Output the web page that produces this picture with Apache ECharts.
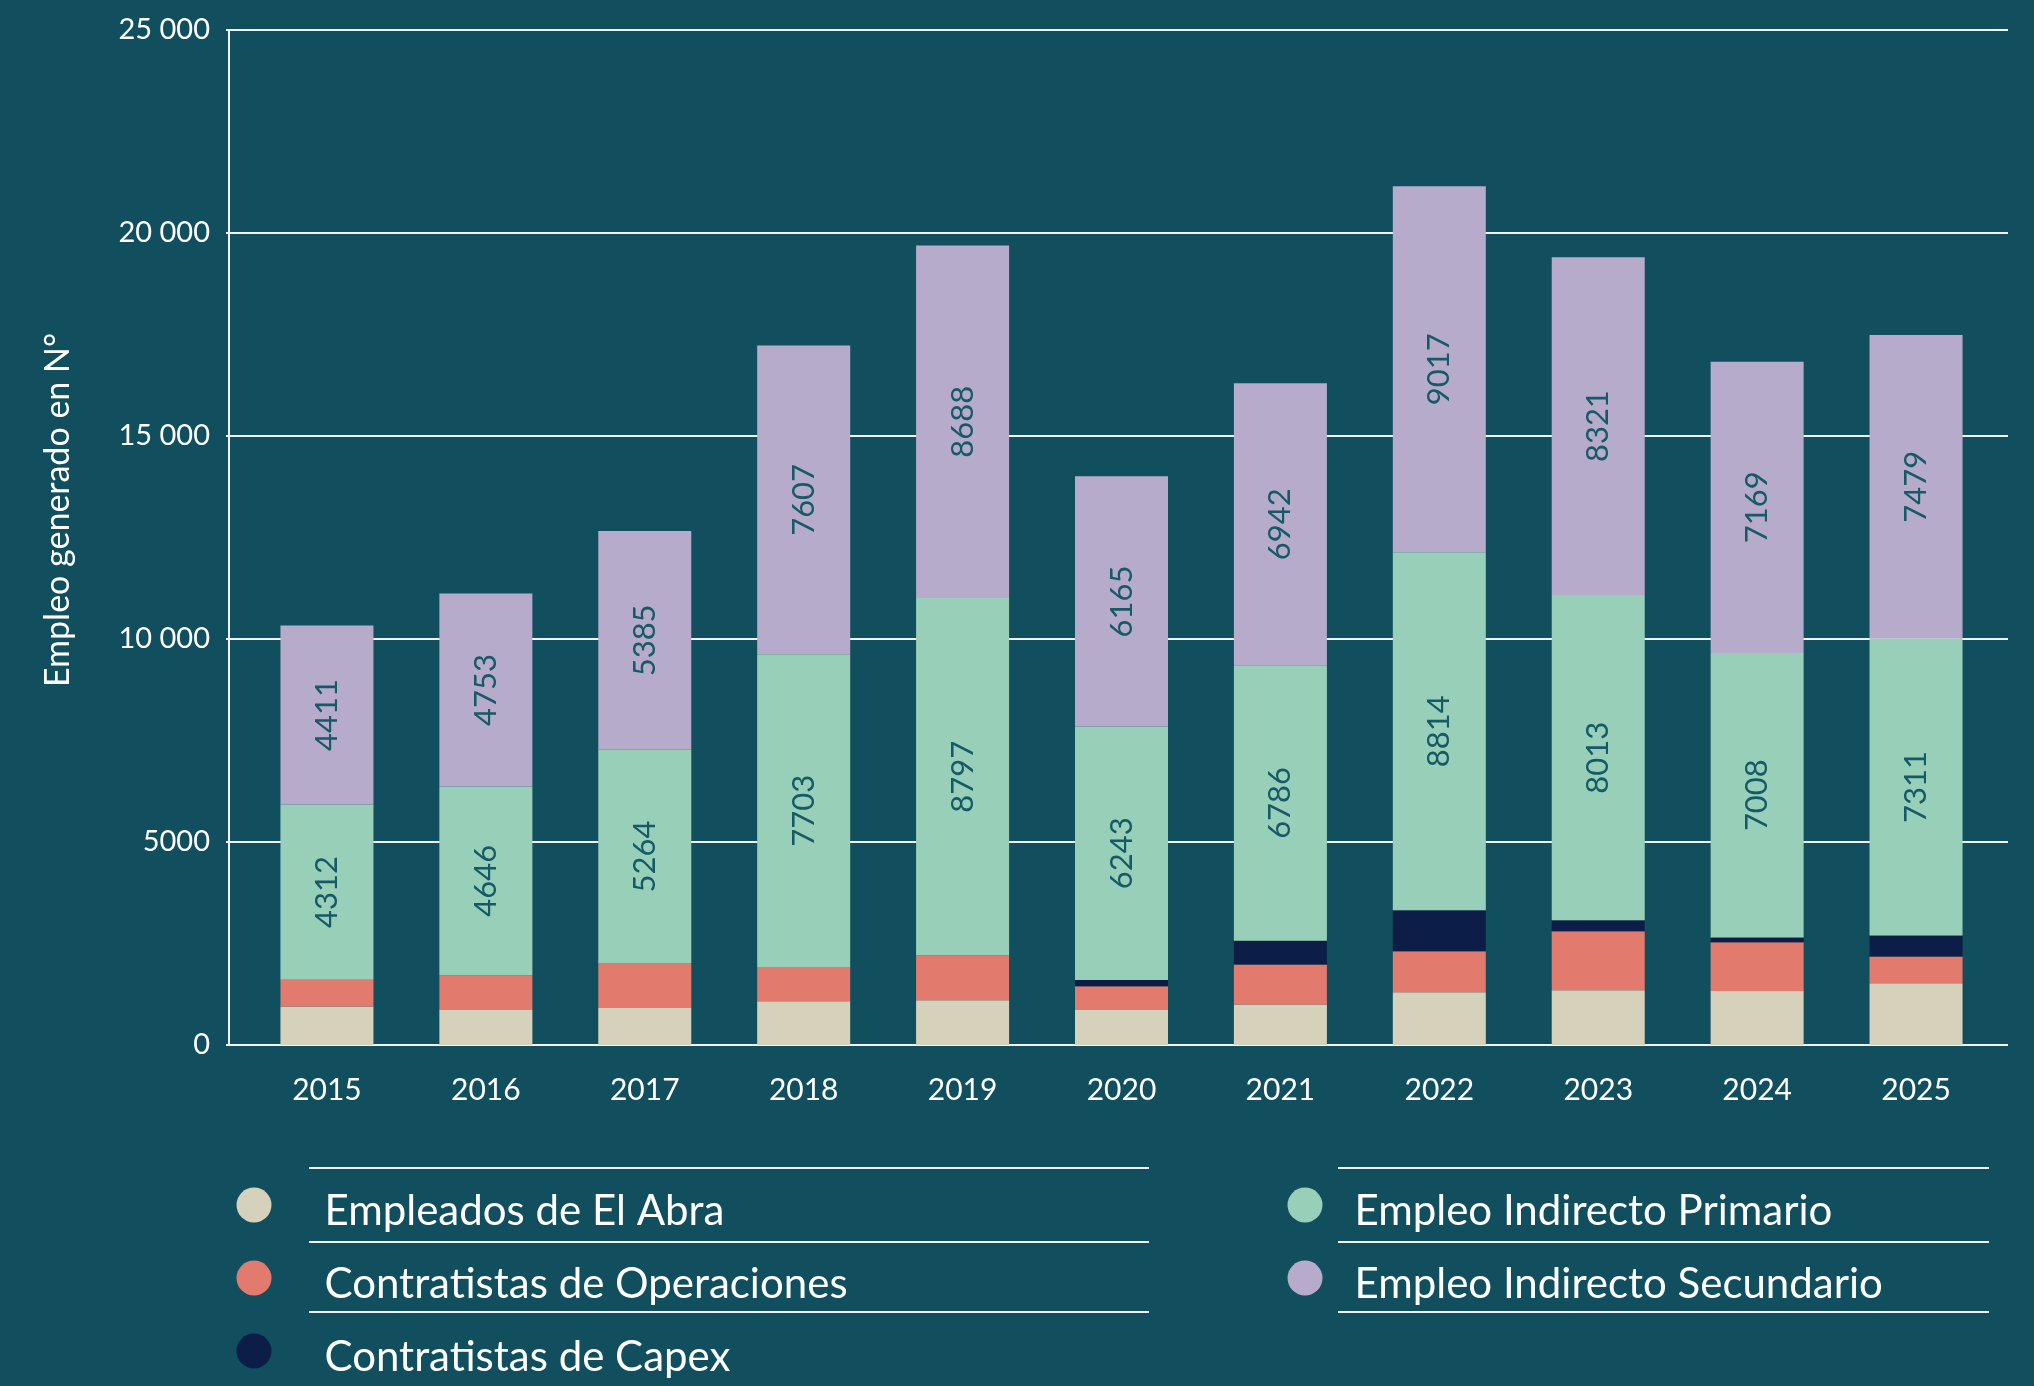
<!DOCTYPE html>
<html>
<head>
<meta charset="utf-8">
<title>Empleo generado</title>
<script src="https://cdn.jsdelivr.net/npm/echarts@6/dist/echarts.min.js"></script>
<style>
  html, body { margin: 0; padding: 0; background: #124f5e; }
  #chart { width: 2034px; height: 1386px; }
</style>
</head>
<body>
<div id="chart"></div>
<script>
var years = ['2015', '2016', '2017', '2018', '2019', '2020', '2021', '2022', '2023', '2024', '2025'];
var seriesNames = ['Empleados de El Abra', 'Contratistas de Operaciones', 'Contratistas de Capex',
  'Empleo Indirecto Primario', 'Empleo Indirecto Secundario'];
var empleados = [950, 860, 910, 1080, 1100, 860, 1000, 1300, 1350, 1330, 1520];
var contratistasOp = [660, 860, 1100, 840, 1110, 590, 980, 1010, 1450, 1200, 660];
var contratistasCapex = [0, 0, 0, 0, 0, 150, 590, 1010, 270, 120, 520];
var indirectoPrimario = [4312, 4646, 5264, 7703, 8797, 6243, 6786, 8814, 8013, 7008, 7311];
var indirectoSecundario = [4411, 4753, 5385, 7607, 8688, 6165, 6942, 9017, 8321, 7169, 7479];
var yTicks = [0, 5000, 10000, 15000, 20000, 25000];
var yTickLabels = ['0', '5000', '10 000', '15 000', '20 000', '25 000'];

var colors = ['#d6d1bb', '#e27a6e', '#0c1e47', '#98cfb9', '#b7abcc'];
var font = 'Lato, "Noto Sans", sans-serif';

var myChart = echarts.init(document.getElementById('chart'));

function barSeries(i, data, withLabel) {
  return {
    name: seriesNames[i],
    type: 'bar',
    stack: 'empleo',
    xAxisIndex: 0,
    yAxisIndex: 0,
    barWidth: 93,
    data: data,
    itemStyle: { color: colors[i] },
    label: {
      show: withLabel,
      position: 'inside',
      rotate: 90,
      color: '#155a66',
      fontFamily: font,
      fontSize: 31
    }
  };
}

// rayas de la leyenda
var legendLines = [];
[1168, 1242, 1312].forEach(function (y) {
  legendLines.push({ type: 'line', shape: { x1: 309, y1: y, x2: 1149, y2: y }, style: { stroke: '#f2f2f2', lineWidth: 2 } });
  legendLines.push({ type: 'line', shape: { x1: 1338, y1: y, x2: 1989, y2: y }, style: { stroke: '#f2f2f2', lineWidth: 2 } });
});

// circulo un poco mas arriba que el texto (el M final estira la caja hacia abajo)
var dotIcon = 'path://M0,17.5A17.5,17.5,0,1,0,35,17.5A17.5,17.5,0,1,0,0,17.5ZM17.5,48';

function legendBlock(names, left, padLeft) {
  return {
    data: names,
    orient: 'vertical',
    left: left,
    top: 1187.5,
    padding: 0,
    icon: dotIcon,
    itemWidth: 35,
    itemHeight: 48,
    itemGap: 25,
    selectedMode: false,
    textStyle: {
      color: '#ffffff',
      fontFamily: font,
      fontSize: 42,
      padding: [0, 0, 0, padLeft]
    }
  };
}

var option = {
  backgroundColor: '#124f5e',
  animation: false,
  grid: [
    // barras
    { left: 247.5, right: 38.5, top: 30, bottom: 341 },
    // ejes y lineas de grilla
    { left: 229, right: 26, top: 30, bottom: 341 }
  ],
  xAxis: [
    {
      type: 'category',
      gridIndex: 0,
      data: years,
      axisLine: { show: false },
      axisTick: { show: false },
      axisLabel: { color: '#ffffff', fontFamily: font, fontSize: 30, margin: 30 }
    },
    { type: 'value', gridIndex: 1, min: 0, max: 1, show: false }
  ],
  yAxis: [
    { type: 'value', gridIndex: 0, min: 0, max: 25000, show: false },
    {
      type: 'value',
      gridIndex: 1,
      min: 0,
      max: 25000,
      interval: 5000,
      axisLine: { show: true, lineStyle: { color: '#f2f2f2', width: 2 } },
      axisTick: { show: true, length: 3, lineStyle: { color: '#f2f2f2', width: 2 } },
      splitLine: { show: true, lineStyle: { color: '#f2f2f2', width: 2 } },
      axisLabel: {
        color: '#ffffff',
        fontFamily: font,
        fontSize: 29,
        margin: 19,
        formatter: function (v) { return yTickLabels[yTicks.indexOf(v)]; }
      }
    }
  ],
  legend: [
    legendBlock(seriesNames.slice(0, 3), 236.5, 48),
    legendBlock(seriesNames.slice(3), 1287.5, 27)
  ],
  graphic: legendLines.concat([
    {
      type: 'text',
      x: 58,
      y: 510,
      rotation: Math.PI / 2,
      style: {
        text: 'Empleo generado en N°',
        fill: '#ffffff',
        font: '34px ' + font,
        textAlign: 'center',
        textVerticalAlign: 'middle'
      }
    }
  ]),
  series: [
    barSeries(0, empleados, false),
    barSeries(1, contratistasOp, false),
    barSeries(2, contratistasCapex, false),
    barSeries(3, indirectoPrimario, true),
    barSeries(4, indirectoSecundario, true)
  ]
};

myChart.setOption(option);
</script>
</body>
</html>
